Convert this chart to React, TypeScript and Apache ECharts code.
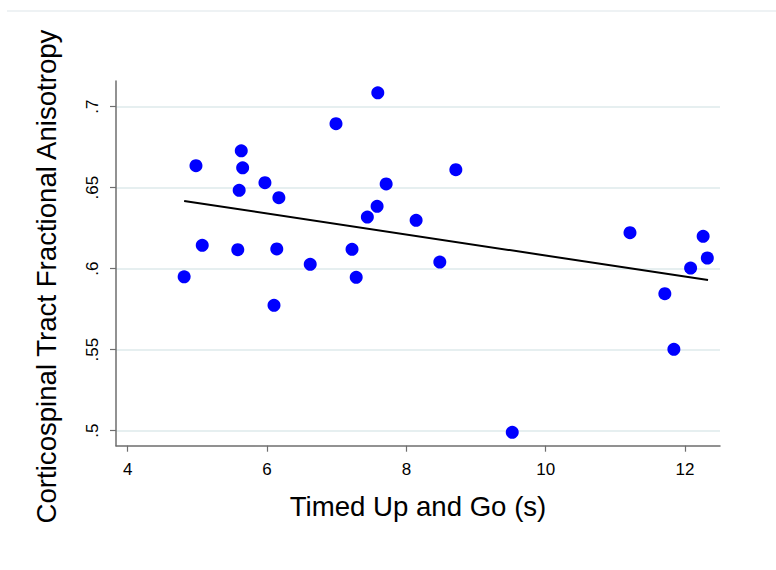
import React, { useEffect, useRef } from "react";
import * as echarts from "echarts";

const tugSeconds = [
  4.81, 4.98, 5.07, 5.58, 5.6, 5.63, 5.65, 5.97, 6.17, 6.14, 6.1, 6.62, 6.99, 7.22, 7.28,
  7.44, 7.58, 7.59, 7.71, 8.14, 8.48, 8.71, 9.52, 11.21, 11.71, 11.84, 12.08, 12.26, 12.32,
];
const faValues = [
  0.595, 0.6636, 0.6144, 0.6117, 0.6484, 0.6728, 0.6623, 0.6531, 0.6438, 0.6122, 0.5774,
  0.6027, 0.6895, 0.612, 0.5947, 0.6319, 0.6385, 0.7086, 0.6523, 0.6299, 0.6041, 0.6611,
  0.499, 0.6222, 0.5846, 0.5502, 0.6004, 0.62, 0.6066,
];
const fitX = [4.81, 12.33];
const fitY = [0.6418, 0.593];
const xTicks = [4, 6, 8, 10, 12];
const yTicks = [0.5, 0.55, 0.6, 0.65, 0.7];

const FONT = "'Liberation Sans', Arial, sans-serif";

export default function App() {
  const ref = useRef<HTMLDivElement>(null);
  useEffect(() => {
    if (!ref.current) return;
    const chart = echarts.init(ref.current, undefined, { renderer: "svg" });
    const axisColor = "#6e6e6e";
    chart.setOption({
      animation: false,
      backgroundColor: "#ffffff",
      grid: { left: 116, right: 56, top: 81, bottom: 124.3 },
      xAxis: {
        type: "value",
        min: 3.832,
        max: 12.502,
        axisLine: { show: true, onZero: false, lineStyle: { color: axisColor, width: 1.5 } },
        axisTick: { show: true, length: 6, customValues: xTicks, lineStyle: { color: axisColor, width: 1.2 } },
        axisLabel: {
          customValues: xTicks,
          margin: 15,
          fontSize: 17,
          color: "#000",
          fontFamily: FONT,
        },
        splitLine: { show: false },
      },
      yAxis: {
        type: "value",
        min: 0.49074,
        max: 0.71586,
        axisLine: { show: true, onZero: false, lineStyle: { color: axisColor, width: 1.5 } },
        axisTick: { show: true, length: 6, customValues: yTicks, lineStyle: { color: axisColor, width: 1.2 } },
        axisLabel: {
          customValues: yTicks,
          rotate: 90,
          margin: 15,
          fontSize: 17,
          color: "#000",
          fontFamily: FONT,
          formatter: (v: number) => v.toFixed(2).replace(/^0/, "").replace(/0$/, ""),
        },
        splitLine: { show: true, lineStyle: { color: "#e6eff0", width: 2 } },
      },
      series: [
        {
          type: "scatter",
          data: tugSeconds.map((x, i) => [x, faValues[i]]),
          symbol: "circle",
          symbolSize: 13,
          itemStyle: { color: "#0000ff", opacity: 1 },
          z: 2,
        },
        {
          type: "line",
          data: fitX.map((x, i) => [x, fitY[i]]),
          showSymbol: false,
          symbol: "none",
          lineStyle: { color: "#000", width: 2 },
          z: 3,
        },
      ],
      graphic: [
        {
          type: "line",
          shape: { x1: 7, y1: 11, x2: 776, y2: 11 },
          style: { stroke: "#e8eef0", lineWidth: 1.5 },
        },
        {
          type: "text",
          x: 418,
          y: 506,
          style: {
            text: "Timed Up and Go (s)",
            fontSize: 27.6,
            fontFamily: FONT,
            fill: "#000",
            align: "center",
            verticalAlign: "middle",
          },
        },
        {
          type: "text",
          x: 46,
          y: 276.5,
          rotation: Math.PI / 2,
          style: {
            text: "Corticospinal Tract Fractional Anisotropy",
            fontSize: 27.6,
            fontFamily: FONT,
            fill: "#000",
            align: "center",
            verticalAlign: "middle",
          },
        },
      ],
    });
    return () => chart.dispose();
  }, []);
  return (
    <div
      ref={ref}
      style={{ position: "fixed", left: 0, top: 0, width: 776, height: 570 }}
    />
  );
}
